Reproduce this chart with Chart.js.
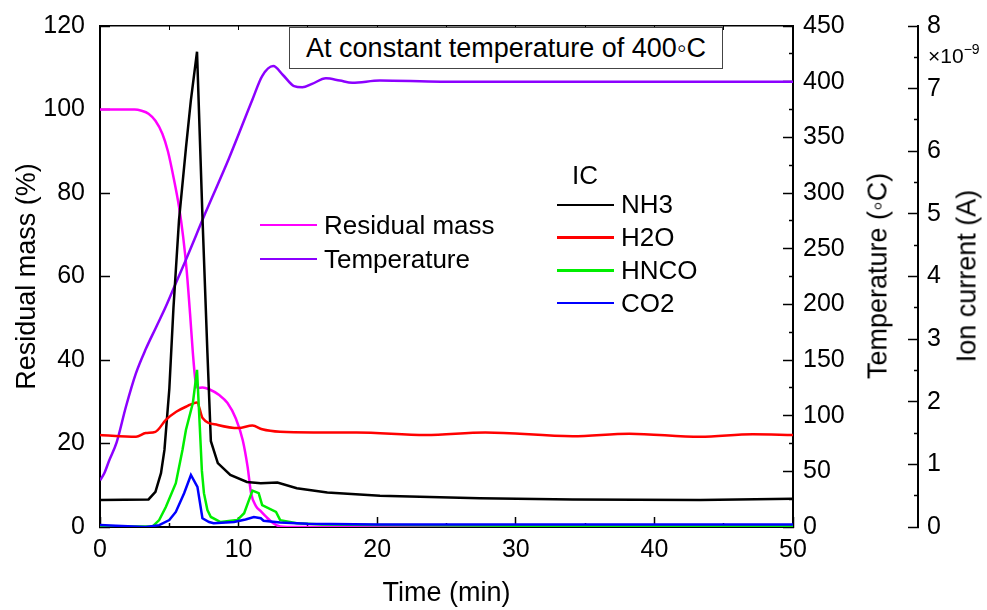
<!DOCTYPE html>
<html><head><meta charset="utf-8">
<script src="https://cdn.jsdelivr.net/npm/chart.js@4.4.0/dist/chart.umd.min.js"></script>
<style>
body{margin:0;background:#fff;}
#wrap{position:relative;width:987px;height:610px;font-family:'Liberation Sans',Arial,sans-serif;color:#000;overflow:hidden;}
canvas{position:absolute;left:0;top:0;}
.note{position:absolute;left:289px;top:27px;width:432px;height:40px;border:1px solid #444;background:#fff;font-size:27px;line-height:40px;text-align:center;white-space:nowrap;}
.vt{position:absolute;transform:translate(-50%,-50%) rotate(-90deg);white-space:nowrap;font-size:27px;line-height:1;}
.lg{position:absolute;}
.row{display:flex;align-items:center;font-size:26px;white-space:nowrap;}
.sw{width:57px;height:2.5px;margin-right:7px;}
sup{font-size:14px;vertical-align:9px;}
</style></head><body>
<div id="wrap"><canvas id="c" width="987" height="610"></canvas>
<div class="note">At constant temperature of 400◦C</div>
<div class="vt" style="left:878px;top:276px">Temperature (◦C)</div>
<div class="vt" style="left:967px;top:276px">Ion current (A)</div>
<div style="position:absolute;left:928px;top:38px;font-size:21px;line-height:22px">×10<sup>−9</sup></div>
<div class="lg" id="lgL" style="left:260px;top:208px"></div>
<div style="position:absolute;left:572px;top:160px;font-size:26px;line-height:30px">IC</div>
<div class="lg" id="lgR" style="left:557px;top:188.6px"></div>
</div>
<script>
// ---- data (time in min) ----
const tMass = [0, 2.5, 3.0, 3.5, 4.0, 4.5, 4.9, 5.35, 5.7, 6.0, 6.25, 6.5, 6.7, 6.88, 7.05, 7.4, 7.87, 8.6, 9.2, 9.8, 10.3, 10.65, 10.9, 11.25, 11.6, 12.0, 12.5, 13.0, 13.5, 20, 30, 40, 50];
const mass  = [100, 100, 99.7, 99.0, 97.3, 94.2, 90, 83, 76.7, 69.5, 61.6, 51, 41.7, 35.2, 33.3, 33.4, 33, 31.6, 29.7, 26, 20.8, 14.4, 8.1, 5.0, 3.8, 2.4, 0.9, 0.1, 0, 0, 0, 0, 0];

const tTemp = [0, 0.3, 0.67, 1.2, 1.87, 2.59, 3.31, 4.03, 4.75, 5.47, 6.2, 6.9, 7.6, 9.3, 11.0, 11.7, 12.5, 13.2, 14.0, 14.6, 15.3, 16.3, 17.3, 18.2, 20.2, 24.6, 30, 40, 50];
const temp  = [42, 48, 60, 76, 108, 138, 160, 179, 198, 219, 240, 261, 282, 331, 384, 405, 414, 406, 396, 395, 398, 403, 401, 399, 401, 400, 400, 400, 400];

// ion currents in units of 1e-9 A
const tNH3 = [0, 3.5, 4.0, 4.4, 4.65, 5.0, 5.3, 5.7, 6.2, 6.55, 7.0, 7.4, 7.75, 8.0, 8.5, 9.4, 10.6, 11.6, 12.8, 14.2, 16.4, 20.2, 27.4, 34.1, 43.3, 50];
const nh3  = [0.43, 0.44, 0.56, 0.86, 1.23, 2.2, 3.5, 4.9, 6.05, 6.8, 7.59, 4.9, 2.78, 1.37, 1.02, 0.83, 0.72, 0.70, 0.71, 0.62, 0.55, 0.50, 0.46, 0.44, 0.43, 0.45];

const tH2O = [0, 2.6, 3.3, 4.0, 4.75, 5.5, 6.2, 7.0, 7.4, 8.5, 10.0, 11.0, 11.7, 13.0, 15.4, 18.5, 23.5, 27.8, 34.1, 38.2, 43.3, 47.1, 50];
const h2o  = [1.47, 1.44, 1.50, 1.52, 1.71, 1.84, 1.92, 1.99, 1.74, 1.63, 1.58, 1.62, 1.56, 1.52, 1.51, 1.51, 1.47, 1.51, 1.45, 1.49, 1.44, 1.48, 1.47];

const tHNCO = [0, 3.8, 4.27, 4.75, 5.47, 5.95, 6.2, 6.7, 7.0, 7.2, 7.35, 7.5, 7.75, 8.0, 8.7, 9.9, 10.4, 11.0, 11.45, 11.7, 12.7, 13.0, 14.2, 16, 20, 30, 40, 50];
const hnco  = [0.0, 0.01, 0.11, 0.32, 0.70, 1.23, 1.55, 1.98, 2.51, 1.6, 0.9, 0.54, 0.27, 0.16, 0.08, 0.11, 0.22, 0.58, 0.54, 0.35, 0.24, 0.11, 0.06, 0.04, 0.03, 0.02, 0.02, 0.02];

const tCO2 = [0, 1.15, 3.3, 4.27, 5.0, 5.47, 6.07, 6.56, 7.03, 7.39, 7.87, 8.2, 9.67, 10.5, 11.1, 11.6, 11.8, 13.0, 15.0, 20, 30, 40, 50];
const co2  = [0.03, 0.02, 0.0, 0.03, 0.11, 0.24, 0.54, 0.83, 0.64, 0.14, 0.08, 0.06, 0.08, 0.12, 0.16, 0.14, 0.10, 0.07, 0.05, 0.04, 0.04, 0.04, 0.04];

const xTicks = [0, 10, 20, 30, 40, 50];
const massTicks = [0, 20, 40, 60, 80, 100, 120];
const tempTicks = [0, 50, 100, 150, 200, 250, 300, 350, 400, 450];
const ionTicks = [0, 1, 2, 3, 4, 5, 6, 7, 8];

// ---- build ----
const pts = (t, v) => t.map((x, i) => ({x: x, y: v[i]}));
const FONT = "'Liberation Sans', Arial, sans-serif";
const isMajor = (arr, v) => arr.some(a => Math.abs(a - v) < 1e-6);
const noPad = s => { s.paddingTop = 0; s.paddingBottom = 0; s.paddingLeft = 0; s.paddingRight = 0; };

function yAxis(pos, min, max, step, majors, width, pad, offsetDash) {
  return {
    type: 'linear', position: pos, min: min, max: max,
    afterFit: s => { s.width = width; noPad(s); },
    border: {display: true, color: '#000', width: 2},
    grid: {
      drawOnChartArea: false, drawTicks: true, tickLength: -10, tickWidth: 1.5, tickColor: '#000',
      tickBorderDash: c => isMajor(majors, c.tick.value) ? [] : [5, 30],
      tickBorderDashOffset: c => (offsetDash && !isMajor(majors, c.tick.value)) ? 5 : 0
    },
    ticks: {
      stepSize: step, autoSkip: false, padding: pad, color: '#000',
      font: {family: FONT, size: 25},
      callback: v => isMajor(majors, v) ? String(v) : ''
    }
  };
}

const datasets = [
  {label: 'CO2', group: 'R', data: pts(tCO2, co2), borderColor: '#0000FF', yAxisID: 'yIon', order: 1, tension: 0},
  {label: 'HNCO', group: 'R', data: pts(tHNCO, hnco), borderColor: '#00EE00', yAxisID: 'yIon', order: 2, tension: 0},
  {label: 'H2O', group: 'R', data: pts(tH2O, h2o), borderColor: '#FF0000', yAxisID: 'yIon', order: 3, cubicInterpolationMode: 'monotone'},
  {label: 'NH3', group: 'R', data: pts(tNH3, nh3), borderColor: '#000000', yAxisID: 'yIon', order: 4, tension: 0},
  {label: 'Temperature', group: 'L', data: pts(tTemp, temp), borderColor: '#8C00FF', yAxisID: 'yTemp', order: 5, cubicInterpolationMode: 'monotone'},
  {label: 'Residual mass', group: 'L', data: pts(tMass, mass), borderColor: '#FF00FF', yAxisID: 'yMass', order: 6, cubicInterpolationMode: 'monotone'}
];
datasets.forEach(d => { d.borderWidth = 2.5; d.pointRadius = 0; d.fill = false; });

const htmlLegend = {
  id: 'htmlLegend',
  afterInit(chart) {
    const L = document.getElementById('lgL'), R = document.getElementById('lgR');
    const left = chart.data.datasets.filter(d => d.group === 'L').reverse();
    const right = chart.data.datasets.filter(d => d.group === 'R').reverse();
    const mk = (d, h) => {
      const r = document.createElement('div'); r.className = 'row'; r.style.height = h + 'px';
      const s = document.createElement('div'); s.className = 'sw'; s.style.background = d.borderColor;
      const t = document.createElement('span'); t.textContent = d.label;
      r.appendChild(s); r.appendChild(t); return r;
    };
    left.forEach(d => L.appendChild(mk(d, 34)));
    right.forEach(d => R.appendChild(mk(d, 32.7)));
  }
};

new Chart(document.getElementById('c'), {
  type: 'line',
  data: {datasets: datasets},
  plugins: [htmlLegend],
  options: {
    responsive: false, animation: false,
    layout: {padding: 0},
    plugins: {legend: {display: false}, tooltip: {enabled: false}},
    scales: {
      x: {
        type: 'linear', position: 'bottom', min: 0, max: 50,
        afterFit: s => { s.height = 83; noPad(s); },
        border: {display: true, color: '#000', width: 2},
        grid: {
          drawOnChartArea: false, tickLength: -10, tickWidth: 1.5, tickColor: '#000',
          tickBorderDash: c => isMajor(xTicks, c.tick.value) ? [] : [5, 30]
        },
        ticks: {stepSize: 5, autoSkip: false, maxRotation: 0, padding: 18, color: '#000',
          font: {family: FONT, size: 25},
          callback: v => isMajor(xTicks, v) ? String(v) : ''},
        title: {display: true, text: 'Time (min)', color: '#000', font: {family: FONT, size: 27}, padding: {top: 0, bottom: 0}}
      },
      x2: {
        type: 'linear', position: 'top', min: 0, max: 50,
        afterFit: s => { s.height = 26; noPad(s); },
        border: {display: true, color: '#000', width: 1.5},
        grid: {drawOnChartArea: false, tickLength: -4, tickWidth: 1, tickColor: '#000'},
        ticks: {display: false, stepSize: 5}
      },
      yMass: Object.assign(yAxis('left', 0, 120, 10, massTicks, 100, 25, true), {
        title: {display: true, text: 'Residual mass (%)', color: '#000', font: {family: FONT, size: 27}, padding: {top: 11, bottom: 0}}
      }),
      yTemp: Object.assign(yAxis('right', 0, 450, 25, tempTicks, 125, 20, false), {weight: 0}),
      yIon: Object.assign(yAxis('right', 0, 8, 0.5, ionTicks, 69, 19, false), {weight: 1})
    }
  }
});
</script>
</body></html>
